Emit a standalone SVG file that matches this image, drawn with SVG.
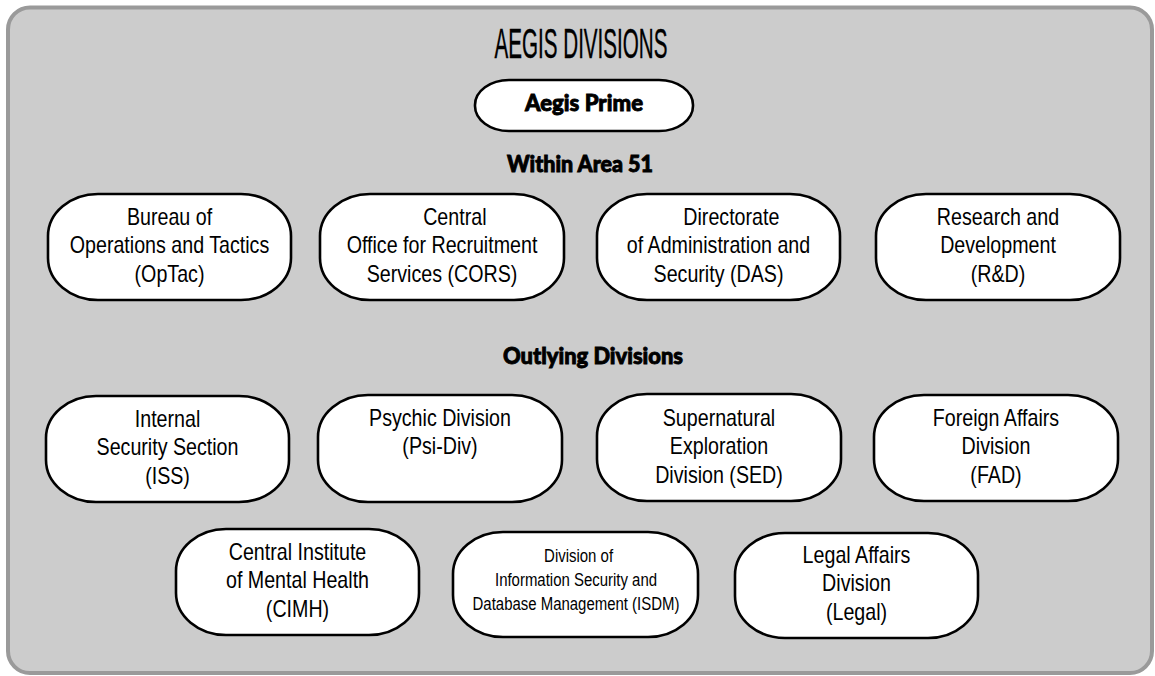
<svg xmlns="http://www.w3.org/2000/svg" width="1155" height="676" viewBox="0 0 1155 676">
<style>
.frame{fill:#cccccc;stroke:#9a9a9a;stroke-width:4}
.node rect{fill:#ffffff;stroke:#000000;stroke-width:2.6}
.t{font-family:"Liberation Sans",Arial,sans-serif;font-size:23px;fill:#000;text-anchor:middle}
.ts{font-family:"Liberation Sans",Arial,sans-serif;font-size:17.5px;fill:#000;text-anchor:middle}
.h{font-family:"Lato","Liberation Sans",Arial,sans-serif;font-weight:900;font-size:23px;fill:#000;text-anchor:middle;stroke:#000;stroke-width:0.9}
.title{font-family:"Liberation Sans",Arial,sans-serif;font-size:43px;fill:#000;stroke:#000;stroke-width:0.4;text-anchor:middle}
</style>
<rect class="frame" x="8" y="7.5" width="1144" height="665.5" rx="22" ry="22"/>
<text class="title" x="581" y="58" textLength="173" lengthAdjust="spacingAndGlyphs">AEGIS DIVISIONS</text>
<g id="aegis-prime" class="node">
<rect x="475" y="80" width="218" height="51" rx="34" ry="25"/>
<text class="h" x="584" y="111" textLength="118" lengthAdjust="spacingAndGlyphs">Aegis Prime</text>
</g>
<text class="h" x="580" y="172" textLength="146" lengthAdjust="spacingAndGlyphs">Within Area 51</text>
<text class="h" x="593" y="364" textLength="180" lengthAdjust="spacingAndGlyphs">Outlying Divisions</text>

<g id="optac" class="node">
<rect x="48" y="194" width="243" height="106" rx="50" ry="42"/>
<text class="t" transform="translate(169.5 0) scale(0.855 1)"><tspan x="0" y="225">Bureau of</tspan><tspan x="0" y="253.5">Operations and Tactics</tspan><tspan x="0" y="282">(OpTac)</tspan></text>
</g>
<g id="cors" class="node">
<rect x="320" y="194" width="244" height="106" rx="50" ry="42"/>
<text class="t" transform="translate(442 0) scale(0.855 1)"><tspan x="15" y="225">Central</tspan><tspan x="0" y="253.5">Office for Recruitment</tspan><tspan x="0" y="282">Services (CORS)</tspan></text>
</g>
<g id="das" class="node">
<rect x="597" y="194" width="243" height="106" rx="50" ry="42"/>
<text class="t" transform="translate(718.5 0) scale(0.855 1)"><tspan x="15" y="225">Directorate</tspan><tspan x="0" y="253.5">of Administration and</tspan><tspan x="0" y="282">Security (DAS)</tspan></text>
</g>
<g id="rnd" class="node">
<rect x="876" y="194" width="244" height="106" rx="50" ry="42"/>
<text class="t" transform="translate(998 0) scale(0.855 1)"><tspan x="0" y="225">Research and</tspan><tspan x="0" y="253.5">Development</tspan><tspan x="0" y="282">(R&amp;D)</tspan></text>
</g>

<g id="iss" class="node">
<rect x="46" y="396" width="243" height="106" rx="50" ry="42"/>
<text class="t" transform="translate(167.5 0) scale(0.855 1)"><tspan x="0" y="427">Internal</tspan><tspan x="0" y="455.5">Security Section</tspan><tspan x="0" y="484">(ISS)</tspan></text>
</g>
<g id="psi-div" class="node">
<rect x="318" y="395" width="244" height="107" rx="50" ry="42"/>
<text class="t" transform="translate(440 0) scale(0.855 1)"><tspan x="0" y="426">Psychic Division</tspan><tspan x="0" y="454.5">(Psi-Div)</tspan></text>
</g>
<g id="sed" class="node">
<rect x="597" y="394" width="244" height="107" rx="50" ry="42"/>
<text class="t" transform="translate(719 0) scale(0.855 1)"><tspan x="0" y="426">Supernatural</tspan><tspan x="0" y="454.5">Exploration</tspan><tspan x="0" y="483">Division (SED)</tspan></text>
</g>
<g id="fad" class="node">
<rect x="874" y="395" width="244" height="106" rx="50" ry="42"/>
<text class="t" transform="translate(996 0) scale(0.855 1)"><tspan x="0" y="426">Foreign Affairs</tspan><tspan x="0" y="454.5">Division</tspan><tspan x="0" y="483">(FAD)</tspan></text>
</g>

<g id="cimh" class="node">
<rect x="176" y="529" width="243" height="106" rx="50" ry="42"/>
<text class="t" transform="translate(297.5 0) scale(0.855 1)"><tspan x="0" y="560">Central Institute</tspan><tspan x="0" y="588.5">of Mental Health</tspan><tspan x="0" y="617">(CIMH)</tspan></text>
</g>
<g id="isdm" class="node">
<rect x="453" y="532" width="245" height="105" rx="50" ry="42"/>
<text class="ts" transform="translate(576 0) scale(0.855 1)"><tspan x="3" y="562">Division of</tspan><tspan x="0" y="586">Information Security and</tspan><tspan x="0" y="610">Database Management (ISDM)</tspan></text>
</g>
<g id="legal" class="node">
<rect x="735" y="533" width="243" height="105" rx="50" ry="42"/>
<text class="t" transform="translate(856.5 0) scale(0.855 1)"><tspan x="0" y="563">Legal Affairs</tspan><tspan x="0" y="591.5">Division</tspan><tspan x="0" y="620">(Legal)</tspan></text>
</g>
<g id="connectors"></g>
</svg>
